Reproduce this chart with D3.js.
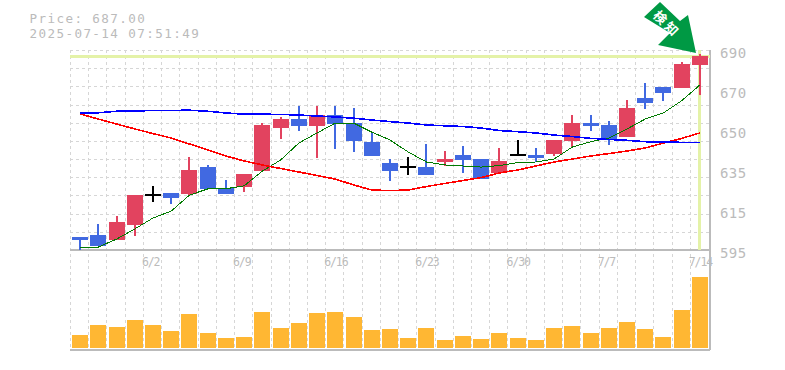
<!DOCTYPE html>
<html><head><meta charset="utf-8">
<style>html,body{margin:0;padding:0;background:#fff}svg{display:block}</style>
<script src="https://cdn.jsdelivr.net/npm/d3@7"></script>
</head><body><svg id="c" width="785" height="370"></svg>
<script>
const dateLabels = {4:"6/2",9:"6/9",14:"6/16",19:"6/23",24:"6/30",29:"7/7",34:"7/14"};
const priceTitle = "Price: 687.00";
const timeTitle = "2025-07-14 07:51:49";
const currentPrice = 687;
const tickPrices = [690,671,652,633,614,595];
const tickLabels = ["690","670","650","635","615","595"];
const opens = [601.2,602.1,599.75,606.9,621.1,622.1,621.6,634.4,624.45,624.9,632.5,653,657.2,653.9,659.1,655.3,646.3,636.3,634.4,634.4,636.8,640.1,638.2,631.6,640.1,640.1,640.6,646.8,655.3,654.4,648.7,667.2,672.4,671.95,682.9];
const highs = [601.2,607.35,611.15,621.1,625.4,622.1,639.2,635.4,628.25,631.1,655.3,658.2,663.4,663.4,663.4,662.45,650.6,638.2,639.2,645.35,642,644.4,638.2,643.45,647.25,643.45,647.25,659.1,659.1,656.3,666.25,674.3,672.4,684.3,688.1];
const lows = [595,596.9,599.75,601.65,617.8,616.85,620.65,624,621.6,622.55,632.5,647.7,651.5,638.7,643,641.55,639.65,627.8,630.6,630.6,634.9,631.6,628.7,631.6,640.1,636.8,639.65,643.45,651.5,644.9,648.7,662,665.8,671.95,668.6];
const closes = [599.75,596.9,608.3,621.1,621.1,619.7,633,624,621.6,631.1,654.4,657.2,653.9,659.1,654.85,646.8,639.65,632.5,634.4,630.6,638.2,637.75,628.7,637.3,640.1,638.7,647.25,655.3,653.9,647.25,662.45,664.8,669.6,683.35,687.15];
const maShort = [596.3,596.4,600.2,605,610.2,613.5,621.1,624,624.1,625.5,632.5,637.75,645.8,650.6,655.3,655.3,651,647.25,641.55,636.8,635.4,634.9,634.4,635.1,636.5,636.8,638.2,643.9,646.4,648.2,652.5,657.2,660.1,665.9,673.4];
const maMid = [659.6,657.2,654.85,652.5,650.3,648.2,645.35,642.5,639.65,637.3,635.4,633.7,632.05,630.4,628.7,625.9,623.5,623.2,623.5,625.15,626.6,628,629.4,631.6,633,634.9,636.8,638.2,639.65,640.8,642,643.45,645.8,648,650.6];
const maLong = [660.2,660.2,660.9,661,661.3,661.3,661.4,660.9,660.1,659.5,659.5,659.4,659.1,658.65,658.2,657.6,656.75,656,655.3,654.4,654,653.65,652.95,651.75,651.2,650.6,649.6,648.9,648.05,647.5,647.1,646.45,646.2,646.15,646.15];
const volumes = [13,23,21,28,23,17,34,15,10,11,36,20,25,35,36,31,18,19,10,20,8,12,9,15,10,8,20,22,15,20,26,19,11,38,71];

const svg = d3.select("#c");
const L=71,R=709,T=50,B=250,VB=350;
const mono = "'DejaVu Sans Mono','Liberation Mono',monospace";
const idx = d3.range(opens.length);
const x = d3.scaleBand().domain(idx).range([L,R]);
const cx = i => x(i)+x.bandwidth()/2;
const y = d3.scaleLinear().domain([595,690]).range([B,T]);
const v = d3.scaleLinear().domain([0,71]).range([348,277]);
const crisp = svg.append("g").attr("shape-rendering","crispEdges");

// grid
const gridY = d3.range(12).map(i=>595+i*95/11);
crisp.selectAll("line.h").data(gridY).join("line").attr("class","h")
 .attr("x1",L-1).attr("x2",R).attr("y1",d=>Math.round(y(d))+.5).attr("y2",d=>Math.round(y(d))+.5)
 .attr("stroke","#d6d6d6").attr("stroke-dasharray","3 3");
crisp.selectAll("line.v").data(d3.range(opens.length)).join("line").attr("class","v")
 .attr("x1",d=>Math.round(x(d)-1)+.5).attr("x2",d=>Math.round(x(d)-1)+.5).attr("y1",T).attr("y2",VB)
 .attr("stroke","#d6d6d6").attr("stroke-dasharray","3 3");

// date labels
svg.selectAll("text.d").data(Object.entries(dateLabels)).join("text").attr("class","d")
 .attr("x",d=>x(+d[0])-2).attr("y",266).text(d=>d[1])
 .attr("fill","#bbb").attr("font-family",mono).attr("font-size",11.5).attr("letter-spacing","-1.1px");

// frame
const frame = [[L-1,B,R+1,B],[L-1,VB,R+1,VB],[R+1,T,R+1,VB]];
crisp.selectAll("line.f").data(frame).join("line").attr("class","f")
 .attr("x1",d=>d[0]).attr("y1",d=>d[1]).attr("x2",d=>d[2]).attr("y2",d=>d[3])
 .attr("stroke","#bbb").attr("stroke-width",2);

// current price crosshair
crisp.append("line").attr("x1",L-1).attr("x2",R+1).attr("y1",y(currentPrice)).attr("y2",y(currentPrice))
 .attr("stroke","#e4f2a8").attr("stroke-width",3);
crisp.append("line").attr("x1",cx(34)).attr("x2",cx(34)).attr("y1",T).attr("y2",B)
 .attr("stroke","#e4f2a8").attr("stroke-width",3);

// moving averages
const lineGen = d3.line().x((d,i)=>cx(i)).y(d=>y(d));
[[maShort,"#007a00",1],[maMid,"#ff0000",1.6],[maLong,"#0000ff",1.6]].forEach(([s,c,w])=>{
  svg.append("path").attr("d",lineGen(s)).attr("fill","none").attr("stroke",c).attr("stroke-width",w).attr("shape-rendering","crispEdges");
});

// candles
const col = i => closes[i]>opens[i] ? "#e2435f" : closes[i]<opens[i] ? "#4169e1" : "#000";
crisp.selectAll("line.w").data(idx).join("line").attr("class","w")
 .attr("x1",i=>Math.round(cx(i))).attr("x2",i=>Math.round(cx(i)))
 .attr("y1",i=>y(highs[i])).attr("y2",i=>y(lows[i]))
 .attr("stroke",col).attr("stroke-width",1.2);
crisp.selectAll("rect.b").data(idx.filter(i=>opens[i]!==closes[i])).join("rect").attr("class","b")
 .attr("x",i=>Math.round(cx(i))-8).attr("width",16)
 .attr("y",i=>y(Math.max(opens[i],closes[i])))
 .attr("height",i=>Math.abs(y(opens[i])-y(closes[i])))
 .attr("fill",col);
crisp.selectAll("line.dj").data(idx.filter(i=>opens[i]===closes[i])).join("line").attr("class","dj")
 .attr("x1",i=>Math.round(cx(i))-8).attr("x2",i=>Math.round(cx(i))+8)
 .attr("y1",i=>y(opens[i])).attr("y2",i=>y(opens[i]))
 .attr("stroke","#000").attr("stroke-width",1.2);

// volume
crisp.selectAll("rect.vol").data(idx).join("rect").attr("class","vol")
 .attr("x",i=>Math.round(cx(i))-8).attr("width",16)
 .attr("y",i=>v(volumes[i])).attr("height",i=>v(0)-v(volumes[i]))
 .attr("fill","#ffb733");

// right axis labels
svg.selectAll("text.y").data(tickPrices).join("text").attr("class","y")
 .attr("x",720).attr("y",d=>Math.round(y(d))+8).text((d,i)=>tickLabels[i])
 .attr("fill","#bbb").attr("font-family",mono).attr("font-size",14).attr("letter-spacing","0.4px");

// title
[[priceTitle,23],[timeTitle,38]].forEach(([t,b])=>{
  svg.append("text").attr("x",29.5).attr("y",b).text(t).attr("fill","#bbb")
   .attr("font-family",mono).attr("font-size",12.6).attr("letter-spacing","1.4px");
});

// arrow
const arrowPts = [[644,17],[660,2],[680,21],[688,15],[696,53],[658,45],[670,33]];
svg.append("polygon").attr("points",arrowPts.join(" ")).attr("fill","#009944");
svg.append("text").attr("transform","translate(667,24) rotate(45)").attr("text-anchor","middle")
 .attr("y",5).text("検知").attr("fill","#fff").attr("font-weight",700)
 .attr("font-family","'Noto Sans CJK JP'").attr("font-size",13).attr("letter-spacing","3px");
</script></body></html>
